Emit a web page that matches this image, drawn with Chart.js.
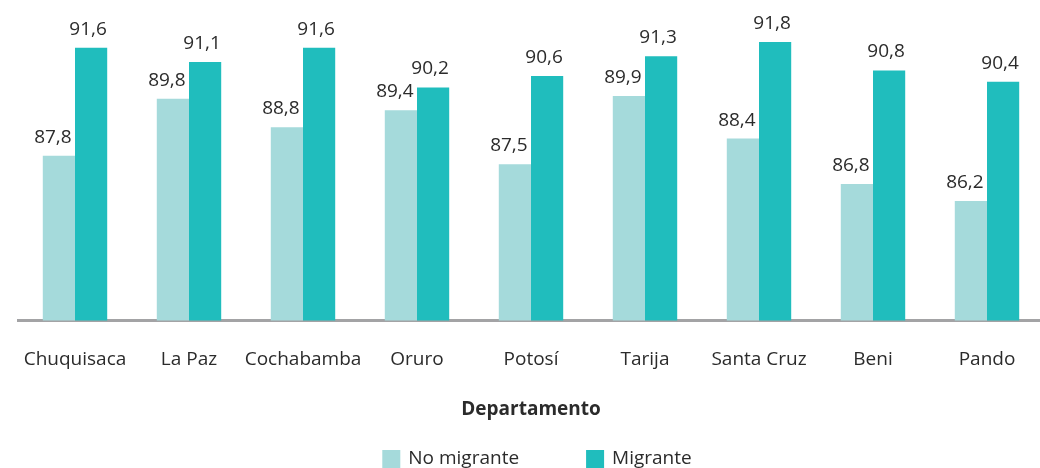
<!DOCTYPE html>
<html>
<head>
<meta charset="utf-8">
<script src="https://cdn.jsdelivr.net/npm/chart.js@4"></script>
<style>
  html, body { margin: 0; padding: 0; background: #fff; overflow: hidden; }
  #wrap { position: absolute; left: 0; top: 0; width: 1050px; height: 468px; }
</style>
</head>
<body>
<div id="wrap"><canvas id="chart"></canvas></div>
<script>
// data
var departamentos = ["Chuquisaca", "La Paz", "Cochabamba", "Oruro", "Potosí", "Tarija", "Santa Cruz", "Beni", "Pando"];
var noMigrante = [87.8, 89.8, 88.8, 89.4, 87.5, 89.9, 88.4, 86.8, 86.2];
var migrante   = [91.6, 91.1, 91.6, 90.2, 90.6, 91.3, 91.8, 90.8, 90.4];

var FONT = "'Open Sans', 'Noto Sans', sans-serif";
var TXT = '#2b2b2b';

// value labels above each bar, comma as decimal mark
var valueLabels = {
  id: 'valueLabels',
  afterDatasetsDraw: function (chart) {
    var ctx = chart.ctx;
    ctx.save();
    ctx.font = '19px ' + FONT;
    ctx.fillStyle = TXT;
    ctx.textAlign = 'center';
    ctx.textBaseline = 'alphabetic';
    chart.data.datasets.forEach(function (ds, i) {
      var shift = i === 0 ? -6 : -3;
      chart.getDatasetMeta(i).data.forEach(function (bar, j) {
        var txt = ds.data[j].toFixed(1).replace('.', ',');
        ctx.fillText(txt, bar.x + shift, bar.y - 13);
      });
    });
    ctx.restore();
  }
};

// legend drawn by hand so the gap between items can be wide
var bottomLegend = {
  id: 'bottomLegend',
  afterDraw: function (chart) {
    var ctx = chart.ctx;
    ctx.save();
    ctx.font = '19px ' + FONT;
    ctx.textBaseline = 'middle';
    ctx.textAlign = 'left';
    var cy = 459, box = 18, gapText = 8, gapItem = 67;
    var items = chart.data.datasets;
    var total = 0;
    items.forEach(function (ds, i) {
      total += box + gapText + ctx.measureText(ds.label).width;
      if (i < items.length - 1) total += gapItem;
    });
    var x = 537 - total / 2;
    items.forEach(function (ds) {
      ctx.fillStyle = ds.backgroundColor;
      ctx.fillRect(x, cy - box / 2, box, box);
      x += box + gapText;
      ctx.fillStyle = TXT;
      ctx.fillText(ds.label, x, cy);
      x += ctx.measureText(ds.label).width + gapItem;
    });
    ctx.restore();
  }
};

new Chart(document.getElementById('chart'), {
  type: 'bar',
  data: {
    labels: departamentos,
    datasets: [
      { label: 'No migrante', data: noMigrante, backgroundColor: '#a5dadb' },
      { label: 'Migrante', data: migrante, backgroundColor: '#20bdbd' }
    ]
  },
  options: {
    responsive: true,
    maintainAspectRatio: false,
    animation: false,
    datasets: { bar: { categoryPercentage: 0.565, barPercentage: 1.0 } },
    layout: { padding: { left: 18, right: 6, top: 0, bottom: 47 } },
    plugins: {
      tooltip: { enabled: false },
      legend: { display: false }
    },
    scales: {
      x: {
        grid: { display: false },
        border: { display: true, color: '#a3a3a5', width: 3 },
        ticks: { font: { family: FONT, size: 19 }, color: TXT, padding: 20, maxRotation: 0, autoSkip: false },
        title: {
          display: true,
          text: 'Departamento',
          font: { family: FONT, size: 19, weight: 'bold' },
          color: TXT,
          padding: { top: 7, bottom: 0 }
        }
      },
      y: {
        display: false,
        min: 82,
        max: 93.28
      }
    }
  },
  plugins: [valueLabels, bottomLegend]
});
</script>
</body>
</html>
